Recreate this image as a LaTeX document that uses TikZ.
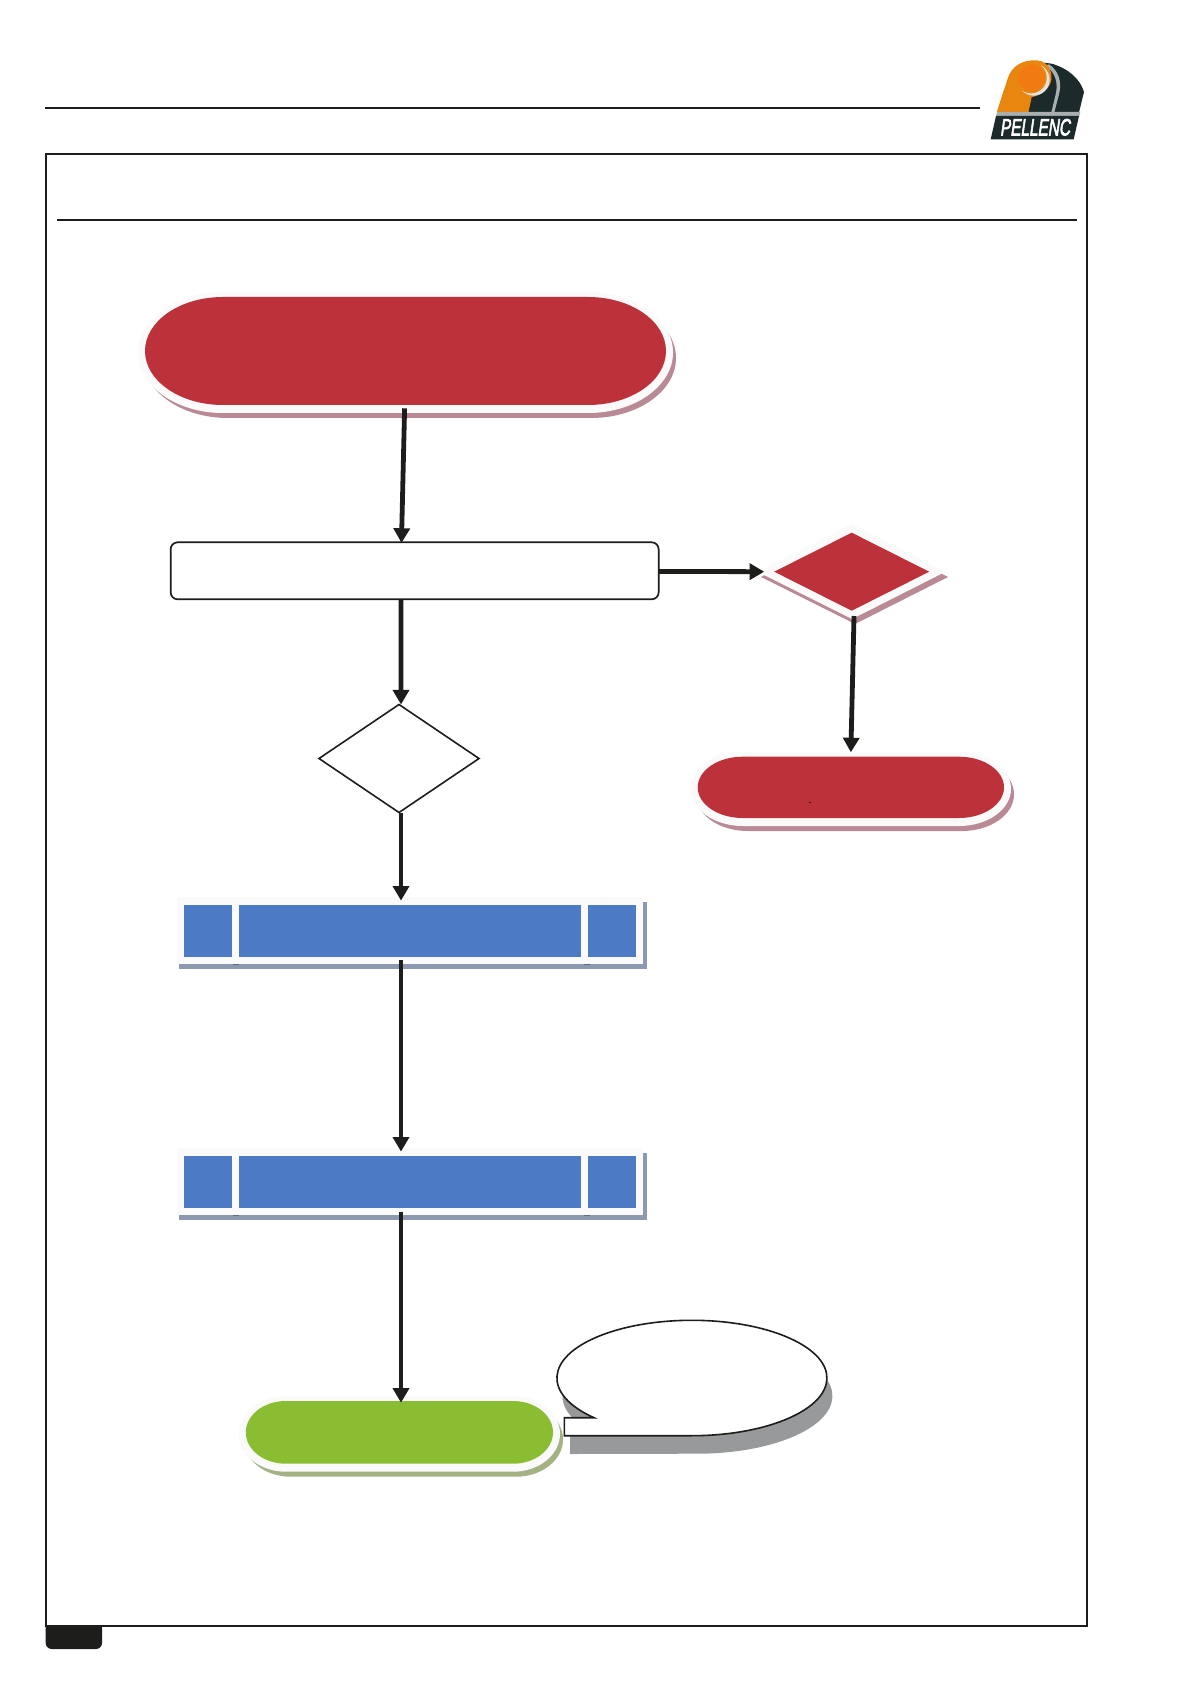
\documentclass[tikz,border=0pt]{standalone}
\usepackage{fontspec}
\usepackage{graphicx}
\setmainfont{Liberation Sans}
\newfontfamily\brandfont[FakeBold=3,FakeSlant=0.22]{Liberation Sans}
\usetikzlibrary{arrows.meta,shapes.geometric}
\def\pxu{0.5pt}
\definecolor{ink}{HTML}{1D1D1B}
\definecolor{redface}{HTML}{BD323A}
\definecolor{redshade}{HTML}{B98A95}
\definecolor{halo}{HTML}{FAFAFA}
\definecolor{blueface}{HTML}{4C7AC4}
\definecolor{blueshade}{HTML}{8D99B0}
\definecolor{bluetick}{HTML}{5C6A96}
\definecolor{greenface}{HTML}{8ABD32}
\definecolor{greenshade}{HTML}{A3B183}
\definecolor{callshade}{HTML}{97999B}
\definecolor{logodark}{HTML}{1C2A2C}
\definecolor{logoorange}{HTML}{E8860F}
\definecolor{logobright}{HTML}{F27A12}
\definecolor{logogrey}{HTML}{A9AEAE}
\definecolor{logoring}{HTML}{E2E2DE}
\tikzset{
  link/.style={draw=ink,line width=2.4pt,-{Triangle[length=7.3pt,width=8pt]}},
  frameline/.style={draw=ink,line width=1pt},
  anchorbox/.style={rectangle,inner sep=0pt,outer sep=0pt},
}
% stadium with elliptical ends: x1 y1 x2 y2 rx ry
\newcommand\pillpath[6]{(#1+#5,#2) -- (#3-#5,#2) arc[start angle=-90,end angle=90,x radius=#5,y radius=#6]
  -- (#1+#5,#4) arc[start angle=90,end angle=270,x radius=#5,y radius=#6] -- cycle}
% name x1 y1 x2 y2 rx face shade
\newcommand\pillnode[8]{%
  \pgfmathsetmacro\pry{(#5-#3)/2}%
  \pgfmathsetmacro\pcx{(#2+#4)/2}%
  \pgfmathsetmacro\pcy{(#3+#5)/2}%
  \pgfmathsetmacro\pwd{#4-#2}%
  \pgfmathsetmacro\pht{#5-#3}%
  \pgfmathsetmacro\Hrya{\pry+6.5}%
  \pgfmathsetmacro\Hryb{\pry+6}%
  \pgfmathsetmacro\Hrx{#6+7}%
  \fill[#8] \pillpath{#2-2}{#3+1}{#4+10}{#5+13}{\Hrx}{\Hryb};
  \fill[halo] \pillpath{#2-7}{#3-5}{#4+7}{#5+8}{\Hrx}{\Hrya};
  \fill[#7] \pillpath{#2}{#3}{#4}{#5}{#6}{\pry};
  \node[anchorbox,minimum width=\pwd*\pxu,minimum height=\pht*\pxu] (#1) at (\pcx,\pcy) {};
}
\newcommand\bluebar[2]{% name top
  \pgfmathsetmacro\barbot{#2+51.7}
  \fill[blueshade] (179,#2-3) rectangle (646.7,#2+64);
  \fill[halo] (177,#2-8) rectangle (643,#2+58.5);
  \fill[bluetick] (233,#2+58.5) rectangle (238.5,#2+59.5);
  \fill[bluetick] (584,#2+58.5) rectangle (590,#2+59.5);
  \fill[blueface] (184,#2) rectangle (232,\barbot);
  \fill[blueface] (588,#2) rectangle (636,\barbot);
  \node[anchorbox,fill=blueface,minimum width=342*\pxu,minimum height=51.7*\pxu] (#1) at (410,#2+25.85) {};
}
\begin{document}
\begin{tikzpicture}[x=\pxu,y=-\pxu]
\useasboundingbox (0,0) rectangle (1190,1684);
\fill[white] (0,0) rectangle (1190,1684);
% header and frame
\draw[frameline] (45,107.7) -- (980,107.7);
\fill[ink] (45.7,1625) -- (102,1625) -- (102,1643) arc[start angle=0,end angle=90,radius=6] -- (51.7,1649) arc[start angle=90,end angle=180,radius=6] -- cycle;
\draw[frameline] (46,154) rectangle (1087,1625.5);
\draw[frameline] (57,220) -- (1077,220);
% logo
\begin{scope}[shift={(985,57)},x=\pxu/3,y=-\pxu/3]
  \fill[logodark] (125,166) -- (150,14) -- (200,20) .. controls (250,35) and (285,65) .. (297,105) -- (282,166) -- cycle;
  \fill[logogrey] (192,22) .. controls (220,40) and (232,75) .. (222,112) -- (208,166) -- (199,166) -- (212,112) .. controls (220,78) and (212,48) .. (182,25) -- cycle;
  \fill[logoorange] (36,165) -- (68,65) .. controls (80,25) and (115,8) .. (155,10) .. controls (195,12) and (212,60) .. (190,90) .. controls (175,108) and (155,118) .. (138,121) -- (130,165) -- cycle;
  \fill[logoring] (146,68) circle[radius=48];
  \fill[logoorange] (138,62) circle[radius=47];
  \fill[logobright] (140,63) circle[radius=40];
  \fill[logoorange] (36,165) -- (58,95) -- (110,120) -- (140,121) -- (130,165) -- cycle;
  \fill[logogrey] (36,165) -- (286,165) -- (283,177) -- (33,177) -- cycle;
  \fill[logodark] (33,177) -- (282,177) -- (266,247) -- (17,247) -- cycle;
  \node[anchorbox,text=white] (brand) at (150,211) {\resizebox{35pt}{8.3pt}{\brandfont PELLENC}};
\end{scope}
% shapes
\pillnode{start}{145}{297}{666}{405}{78}{redface}{redshade}
\node[anchorbox,draw=ink,fill=white,line width=0.85pt,rounded corners=3.5pt,minimum width=488*\pxu,minimum height=57*\pxu] (check) at (414.65,570.8) {};
% warning diamond
\fill[redshade] (761,577) -- (855,529) -- (948,577) -- (855,624) -- cycle;
\fill[halo] (758,572) -- (852,524) -- (945,572) -- (852,619) -- cycle;
\node[anchorbox,diamond,aspect=1.97,fill=redface,minimum width=155*\pxu,minimum height=78*\pxu] (warn) at (851.7,571.7) {};
\pillnode{stop}{697.7}{756.7}{1004}{818}{45}{redface}{redshade}
\fill[ink] (808.7,801.8) rectangle (811,802.8);
\node[anchorbox,diamond,aspect=1.48,draw=ink,fill=white,line width=0.8pt,minimum width=160*\pxu,minimum height=108*\pxu] (test) at (399,758.5) {};
\bluebar{barone}{905}
\bluebar{bartwo}{1156}
\pillnode{done}{245.8}{1401}{553}{1463.7}{40}{greenface}{greenshade}
% speech bubble
\fill[callshade] (599.5,1435.7) arc[start angle=136.5,end angle=450,x radius=135,y radius=57.7] -- (570,1454) -- (570,1435.7) -- cycle;
\draw[draw=ink,fill=white,line width=0.8pt,line join=miter] (594,1417.7) arc[start angle=136.5,end angle=450,x radius=135,y radius=57.7] -- (564.4,1435.7) -- (564.4,1417.7) -- cycle;
% connectors
\draw[link] ([xshift=-0.45pt,yshift=-1.65pt]start.south) -- ([xshift=-6.6pt,yshift=-0.3pt]check.north);
\draw[link] ([xshift=-6.8pt]check.south) -- ([xshift=1pt]test.north);
\draw[link] ([xshift=1pt]test.south) -- ([xshift=-4.5pt,yshift=2.2pt]barone.north);
\draw[link] ([xshift=-4.5pt,yshift=-1.65pt]barone.south) -- ([xshift=-4.5pt,yshift=2.2pt]bartwo.north);
\draw[link] ([xshift=-4.5pt,yshift=-2.3pt]bartwo.south) -- ([xshift=0.8pt,yshift=-0.85pt]done.north);
\draw[link] ([yshift=-0.3pt]check.east) -- ([xshift=-5pt]warn.west);
\draw[link] ([xshift=1.15pt,yshift=-2.65pt]warn.south) -- ([yshift=2.2pt]stop.north);
\end{tikzpicture}
\end{document}
